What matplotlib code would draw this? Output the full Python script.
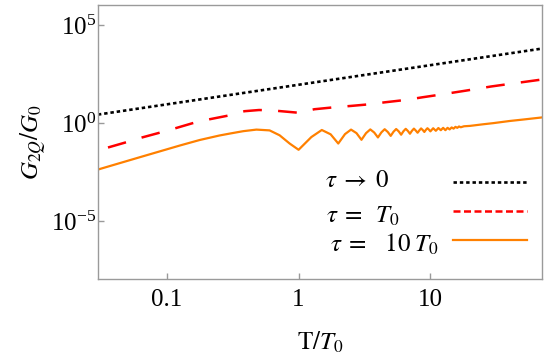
import numpy as np
import matplotlib
matplotlib.use("Agg")
import matplotlib.pyplot as plt
from matplotlib.lines import Line2D

plt.rcParams['font.family'] = ['Liberation Serif', 'DejaVu Serif']
plt.rcParams['mathtext.fontset'] = 'stix'

# ---- data (log10 values) ----
black_T = [0.03, 0.1, 1.0, 10.0, 70.0]
black_G = [2.67, 8.9, 89.0, 890.0, 6230.0]

red_logT = [-1.523, -1.447, -1.30, -1.19, -1.05, -0.927, -0.788, -0.674, -0.523,
            -0.41, -0.30, -0.20, -0.10, 0.0, 0.12, 0.27, 0.40, 0.55, 0.65, 0.82,
            0.94, 1.08, 1.27, 1.46, 1.61, 1.85]
red_logG = [-1.40, -1.255, -0.97, -0.745, -0.49, -0.255, 0.02, 0.19, 0.39,
            0.60, 0.66, 0.64, 0.58, 0.52, 0.70, 0.80, 0.87, 0.96, 1.05, 1.18,
            1.31, 1.45, 1.65, 1.86, 2.00, 2.22]

orange_lowT_logT = [-1.523, -1.2, -0.9, -0.75, -0.6, -0.52, -0.42, -0.32, -0.22,
                    -0.144, -0.068]
orange_lowT_logG = [-2.38, -1.74, -1.15, -0.87, -0.64, -0.54, -0.42, -0.34, -0.38,
                    -0.63, -1.05]
orange_T = [1.0, 1.25, 1.5, 1.75, 2.0, 2.25, 2.5, 2.75, 3.0, 3.25, 3.5, 3.75,
            4.0, 4.25, 4.5, 4.75, 5.0, 5.25, 5.5, 5.75, 6.0, 6.25, 6.5, 6.75,
            7.0, 7.25, 7.5, 7.75, 8.0, 8.25, 8.5, 8.75, 9.0, 9.25, 9.5, 9.75,
            10.0, 10.5, 11.0, 11.5, 12.0, 12.5, 13.0, 13.5, 14.0, 14.5, 15.0,
            15.5, 16.0, 16.5, 17.0, 18.0, 20.0, 25.0, 30.0, 40.0, 50.0, 70.0]
orange_logG = [-1.37, -0.72, -0.36, -0.58, -1.05, -0.57, -0.34, -0.52, -0.86,
               -0.52, -0.33, -0.49, -0.74, -0.48, -0.32, -0.46, -0.66, -0.45,
               -0.31, -0.43, -0.60, -0.42, -0.30, -0.41, -0.55, -0.40, -0.29,
               -0.39, -0.50, -0.38, -0.28, -0.36, -0.46, -0.35, -0.27, -0.34,
               -0.43, -0.27, -0.40, -0.26, -0.37, -0.25, -0.37, -0.25, -0.33,
               -0.23, -0.29, -0.20, -0.25, -0.18, -0.22, -0.17, -0.15, -0.07,
               -0.01, 0.10, 0.17, 0.28]

labels = [r"$\tau\;\rightarrow\;0$",
          r"$\tau\;=\;\;T_0$",
          r"$\tau\;=\;\;\;10\;T_0$"]
xticks = [0.1, 1, 10]
xticklabels = ["0.1", "1", "10"]
yticks = [1e-5, 1e0, 1e5]

# ---- figure ----
fig = plt.figure(figsize=(5.5, 3.58), dpi=100)
ax = fig.add_axes([0.178, 0.221, 0.807, 0.765])

red_T = 10 ** np.array(red_logT)
red_G = 10 ** np.array(red_logG)
oT = np.concatenate([10 ** np.array(orange_lowT_logT), orange_T])
oG = np.concatenate([10 ** np.array(orange_lowT_logG), 10 ** np.array(orange_logG)])

ax.plot(black_T, black_G, color='black', lw=1.9, linestyle=(0, (1.3, 1.1)))
ax.plot(red_T, red_G, color='#ff0000', lw=1.8, linestyle=(9.8, (7.5, 6.5)))
ax.plot(oT, oG, color='#ff8000', lw=1.6)

ax.set_xscale('log')
ax.set_yscale('log')
ax.set_xlim(0.03, 70)
ax.set_ylim(10 ** -7.96, 10 ** 6.02)

ax.set_xticks(xticks)
ax.set_xticklabels(xticklabels)
ax.set_yticks(yticks)
ax.minorticks_off()

gray = '#9a9a9a'
for s in ax.spines.values():
    s.set_color(gray)
    s.set_linewidth(1.0)
ax.tick_params(direction='in', length=4, width=1, color=gray, labelsize=18,
               labelcolor='black')
ax.tick_params(axis='x', pad=7)
ax.tick_params(axis='y', pad=1)

ax.set_xlabel(r"$\mathrm{T}/T_0$", fontsize=18, labelpad=14)
ax.set_ylabel(r"$G_{2Q}/G_0$", fontsize=18, labelpad=2)

# legend: handle proxies only (labels drawn as separate left-aligned texts)
proxies = [Line2D([], [], color='black', lw=1.9, linestyle=(0, (1.3, 1.1))),
           Line2D([], [], color='#ff0000', lw=1.8, linestyle=(0, (2.8, 1.4))),
           Line2D([], [], color='#ff8000', lw=1.6)]
leg = ax.legend(proxies, [' ', ' ', ' '], loc='upper left',
                bbox_to_anchor=(0.7995, 0.385), frameon=False,
                fontsize=18, handlelength=2.96, handletextpad=0.0,
                labelspacing=0.26, borderpad=0, borderaxespad=0)

label_x = [0.511, 0.515, 0.522]
label_y = [0.336, 0.204, 0.0985]
for lx, ly, lab in zip(label_x, label_y, labels):
    ax.text(lx, ly, lab, transform=ax.transAxes, fontsize=18, ha='left',
            va='baseline')

fig.savefig('out.png', dpi=100)
